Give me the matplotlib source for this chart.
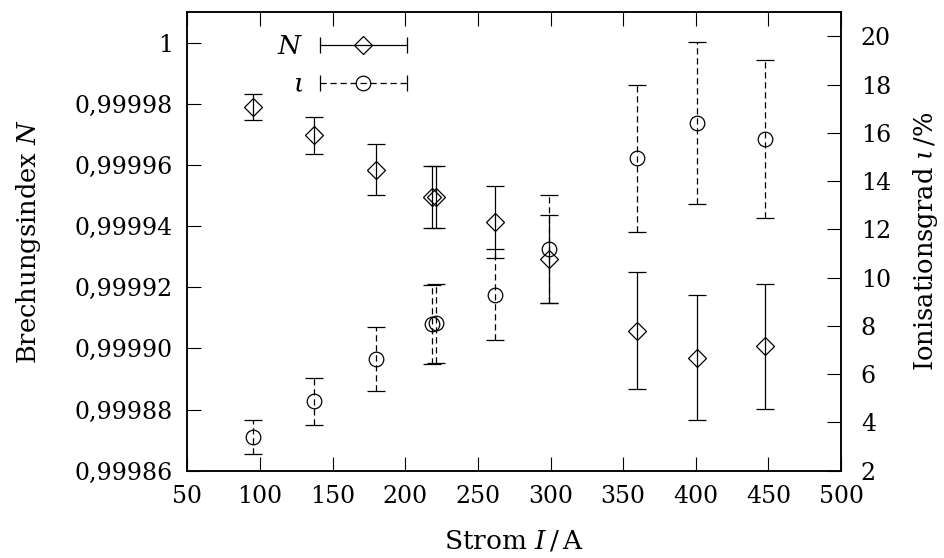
import numpy as np
import matplotlib
matplotlib.use('Agg')
import matplotlib.pyplot as plt
from matplotlib.lines import Line2D
from matplotlib.legend_handler import HandlerLine2D, HandlerTuple
from matplotlib.ticker import FuncFormatter

plt.rcParams['font.family'] = 'DejaVu Serif'
plt.rcParams['mathtext.fontset'] = 'dejavuserif'
plt.rcParams['font.size'] = 17

# Strom I in A
current = [95.4, 137.0, 179.5, 218.3, 221.2, 262.0, 299.0, 359.5, 401.0, 447.5]
# Brechungsindex N
N = [0.999979, 0.9999697, 0.9999585, 0.9999494, 0.9999494,
     0.9999413, 0.9999292, 0.9999058, 0.999897, 0.9999007]
N_err = [4.4e-6, 6.1e-6, 8.35e-6, 1.015e-5, 1.015e-5,
         1.17e-5, 1.44e-5, 1.91e-5, 2.04e-5, 2.05e-5]
# Ionisationsgrad iota in %
iota = [3.39, 4.875, 6.625, 8.07, 8.11, 9.30, 11.18, 14.95, 16.41, 15.75]
iota_err = [0.69, 0.98, 1.34, 1.63, 1.63, 1.87, 2.24, 3.05, 3.37, 3.28]

xticks = [50, 100, 150, 200, 250, 300, 350, 400, 450, 500]
N_ticks = [0.99986, 0.99988, 0.99990, 0.99992, 0.99994, 0.99996, 0.99998, 1.0]
iota_ticks = [2, 4, 6, 8, 10, 12, 14, 16, 18, 20]


def comma(x, pos):
    if abs(x - 1) < 1e-9:
        return '1'
    return '{:.5f}'.format(x).replace('.', ',')


fig = plt.figure(figsize=(9.44, 5.58), dpi=100)
ax = fig.add_axes([0.1986, 0.1565, 0.6923, 0.8215])
ax2 = ax.twinx()

ax.errorbar(current, N, yerr=N_err, fmt='D', ms=9.5, mfc='none', mec='k',
            mew=0.9, ecolor='k', elinewidth=0.9, capsize=6.5, capthick=0.9)
eb = ax2.errorbar(current, iota, yerr=iota_err, fmt='o', ms=10.5, mfc='none',
                  mec='k', mew=0.9, ecolor='k', elinewidth=0.9, capsize=6.5,
                  capthick=0.9)
eb[2][0].set_linestyle((0, (5, 3)))

ax.set_xlim(50, 500)
ax.set_ylim(0.99986, 1.00001)
ax2.set_ylim(2, 21)
ax.set_xticks(xticks)
ax.set_yticks(N_ticks)
ax2.set_yticks(iota_ticks)
ax.yaxis.set_major_formatter(FuncFormatter(comma))

ax.tick_params(direction='in', length=10, width=0.8, top=True, right=False)
ax.tick_params(axis='x', pad=10.3)
ax.tick_params(axis='y', pad=10.4)
ax2.tick_params(direction='in', length=10, width=0.8, pad=14.3)
for a in (ax, ax2):
    for s in a.spines.values():
        s.set_linewidth(1.1)

ax.set_xlabel(r'Strom $I\,/\,\mathrm{A}$', fontsize=19, labelpad=15)
ax.set_ylabel(r'Brechungsindex $N$', fontsize=18.5, labelpad=23)
ax2.set_ylabel(r'Ionisationsgrad $\iota\,/\%$', fontsize=18.5, labelpad=14)

# legend: horizontal error bar with marker in the middle
capN = Line2D([], [], color='k', lw=0.9, ls='-', marker='|', ms=11, mew=0.9)
mkN = Line2D([], [], ls='none', marker='D', ms=9.5, mfc='none', mec='k', mew=0.9)
capI = Line2D([], [], color='k', lw=0.9, ls=(0, (5, 3)), marker='|', ms=11, mew=0.9)
mkI = Line2D([], [], ls='none', marker='o', ms=10.5, mfc='none', mec='k', mew=0.9)
hmap = {capN: HandlerLine2D(numpoints=2), capI: HandlerLine2D(numpoints=2),
        mkN: HandlerLine2D(numpoints=1), mkI: HandlerLine2D(numpoints=1),
        tuple: HandlerTuple(ndivide=1)}
ax2.legend([(capN, mkN), (capI, mkI)], [r'$N$', r'$\iota$'], handler_map=hmap,
           markerfirst=False, frameon=False, handlelength=3.88,
           handletextpad=0.34, labelspacing=0.475, borderpad=0, borderaxespad=0,
           loc='upper right', bbox_to_anchor=(0.3475, 0.952), fontsize=19)

fig.savefig('out.png', dpi=100)
